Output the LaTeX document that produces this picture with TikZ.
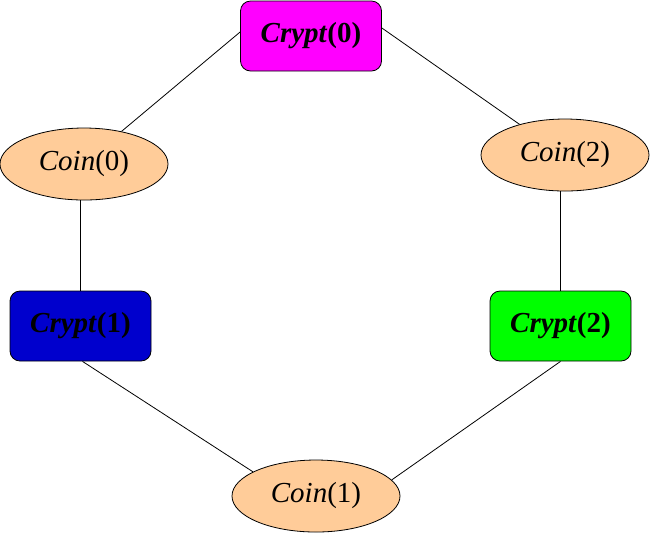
\documentclass[tikz,border=0pt]{standalone}
\usepackage{fontspec}
\setmainfont{Liberation Serif}
\usetikzlibrary{shapes.geometric}
\definecolor{cryptmag}{RGB}{255,0,255}
\definecolor{cryptblue}{RGB}{0,0,205}
\definecolor{cryptgreen}{RGB}{0,255,0}
\definecolor{coinpeach}{RGB}{255,204,153}

\begin{document}
\begin{tikzpicture}[x=0.5pt,y=-0.5pt,font=\fontsize{14.5}{17}\selectfont,
    crypt/.style={draw,rounded corners=5pt,inner sep=0pt,minimum width=70.5pt,minimum height=35pt},
    coin/.style={draw,ellipse,fill=coinpeach,inner sep=0pt,minimum width=84pt,minimum height=36pt}]
        \useasboundingbox (0,0) rectangle (652,532);
        \node[crypt,fill=cryptmag] (crypt0) at (311,36) {\textbf{\textit{Crypt}(0)}};
        \node[coin] (coin0) at (84,164) {\textit{Coin}(0)};
        \node[coin] (coin2) at (565,155) {\textit{Coin}(2)};
        \node[crypt,fill=cryptblue] (crypt1) at (80.5,326) {\textbf{\textit{Crypt}(1)}};
        \node[crypt,fill=cryptgreen] (crypt2) at (560.5,326) {\textbf{\textit{Crypt}(2)}};
        \node[coin] (coin1) at (316,496) {\textit{Coin}(1)};
        % ring of edges
        \draw ([yshift=2pt]crypt0.west) -- (coin0.41);
        \draw ([yshift=4pt]crypt0.east) -- (coin2.146);
        \draw (coin0.south -| crypt1.north) -- (crypt1.north);
        \draw (coin2.south -| crypt2.north) -- (crypt2.north);
        \draw ([xshift=1pt]crypt1.south) -- (coin1.159);
        \draw (crypt2.south) -- (coin1.12);
      \end{tikzpicture}
\end{document}
